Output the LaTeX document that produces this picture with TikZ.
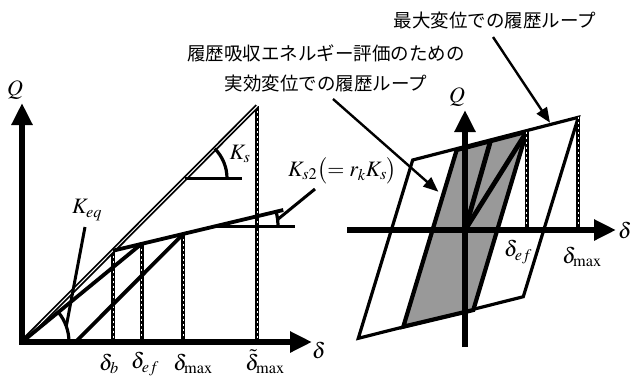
\documentclass[tikz,border=0pt]{standalone}
\usepackage{mathptmx}
\usepackage{fontspec}
\setmainfont{Liberation Serif}
\newfontfamily\jpfont{Noto Sans CJK JP}
\usepackage{tikz}
\usetikzlibrary{arrows.meta}

\begin{document}
\begin{tikzpicture}[x=1pt, y=-1pt,
  axis/.style={line width=6pt, line join=miter, -{Triangle[length=22pt, width=20pt]}},
  curve/.style={line width=3.8pt},
  stiff/.style={line width=1.8pt, double=white, double distance=1pt},
  dimback/.style={line width=3.8pt, black},
  dimfront/.style={line width=0.6pt, white, dash pattern=on 2pt off 3pt},
  angle/.style={line width=3.2pt},
  lead/.style={line width=3pt},
  loop/.style={line width=3.2pt, line join=miter},
  effloop/.style={line width=4.2pt, line join=miter, fill=black!40},
  pointer/.style={line width=2.4pt, -{Triangle[length=15pt, width=12pt]}},
  lab/.style={font=\fontsize{22}{22}\selectfont, inner sep=0pt},
  note/.style={font=\fontsize{18.5}{30}\selectfont\jpfont, align=center, inner sep=0pt},
]
\useasboundingbox (0,0) rectangle (633,376);

% Skeleton curve (left)
\coordinate (O1) at (22,342);
\coordinate (Qtop1) at (22,103);
\coordinate (Dend1) at (312,342);
\coordinate (B) at (113,250.7);
\coordinate (E) at (141.7,243.7);
\coordinate (M) at (183,234.2);
\coordinate (T) at (257.3,106.1);
\coordinate (S2) at (283.3,210);
\coordinate (U) at (75.5,342);

\foreach \p in {B, E, M, T} {
  \draw[dimback] (\p) -- (\p |- O1);
  \draw[dimfront] (\p) -- (\p |- O1);
}

\draw[stiff] (O1) -- (T);
\draw[curve] (B) -- (S2);
\draw[curve] (M) -- (U);
\draw[curve] (O1) -- (E);

\draw[axis, {Triangle[length=22pt, width=20pt]}-{Triangle[length=22pt, width=20pt]}]
  (Qtop1) -- (O1) -- (Dend1);

% Stiffness marks
\coordinate (KsC) at (185,178.3);
\draw[angle] (KsC) -- ++(57,0);
\draw[angle] ([shift={(0:42)}]KsC) arc[start angle=0, end angle=-45, radius=42];
\node[lab] (ks) at (240,154) {$K_s$};

\coordinate (Ks2C) at (215,226.7);
\draw[angle] (Ks2C) -- ++(80,0);
\draw[angle] ([shift={(0:63)}]Ks2C) arc[start angle=0, end angle=-13.2, radius=63];
\coordinate (ks2a) at (277.6,219.5);
\coordinate (ks2b) at (315,189);
\draw[lead] (ks2a) -- (ks2b);
\node[lab, anchor=west] (ks2) at (288,171) {$K_{s2}\bigl(=r_kK_s\bigr)$};

\draw[angle] ([shift={(0:47)}]O1) arc[start angle=0, end angle=-39.2, radius=47];
\coordinate (keqa) at (66.3,326.2);
\coordinate (keqb) at (85,227);
\draw[lead] (keqa) -- (keqb);
\node[lab] (keq) at (87,210) {$K_{eq}$};

% Axis labels (left)
\node[lab] (q1) at (15,90) {$Q$};
\node[lab] (d1) at (319,350) {$\delta$};
\node[lab] (db) at (109,364) {$\delta_b$};
\node[lab] (def) at (145,364) {$\delta_{ef}$};
\node[lab] (dmax) at (193,364) {$\delta_{\max}$};
\node[lab] (dtmax) at (265,362) {$\tilde{\delta}_{\max}$};

% Hysteresis loops (right)
\coordinate (O2) at (465,230);
\coordinate (oTL) at (412.7,160);
\coordinate (oTR) at (578.3,117.3);
\coordinate (oBR) at (523.3,296.7);
\coordinate (oBL) at (358.3,338.3);
\coordinate (iTL) at (456.7,150);
\coordinate (iTR) at (526.7,131.7);
\coordinate (iBR) at (473.3,310);
\coordinate (iBL) at (403.3,326.7);
\coordinate (Y2) at (490,142.7);

\draw[loop] (oTL) -- (oTR) -- (oBR) -- (oBL) -- cycle;
\draw[effloop] (iTL) -- (iTR) -- (iBR) -- (iBL) -- cycle;
\draw[curve, line width=4.8pt] (O2) -- (Y2);
\draw[curve, line width=4.8pt] (O2) -- (iTR);
\foreach \p in {iTR, oTR} {
  \draw[dimback] (\p) -- (\p |- O2);
  \draw[dimfront] (\p) -- (\p |- O2);
}

\coordinate (Qbot2) at (465,347);
\coordinate (Qtop2) at (465,110);
\coordinate (Dbeg2) at (347,230);
\coordinate (Dend2) at (616,230);
\draw[axis] (Qbot2) -- (Qtop2);
\draw[axis] (Dbeg2) -- (Dend2);

\node[lab] (q2) at (457,97) {$Q$};
\node[lab] (d2) at (625,230) {$\delta$};
\node[lab] (def2) at (518,252) {$\delta_{ef}$};
\node[lab] (dmax2) at (582,257) {$\delta_{\max}$};

% Notes
\node[note] (maxnote) at (495,20) {最大変位での履歴ループ};
\node[note] (effnote) at (326,68) {履歴吸収エネルギー評価のための\\実効変位での履歴ループ};
\coordinate (p1a) at (493,37);
\coordinate (p1b) at (550,122.7);
\coordinate (p2a) at (333,99);
\coordinate (p2b) at (438.3,191.7);
\draw[pointer] (p1a) -- (p1b);
\draw[pointer] (p2a) -- (p2b);

\end{tikzpicture}
\end{document}
